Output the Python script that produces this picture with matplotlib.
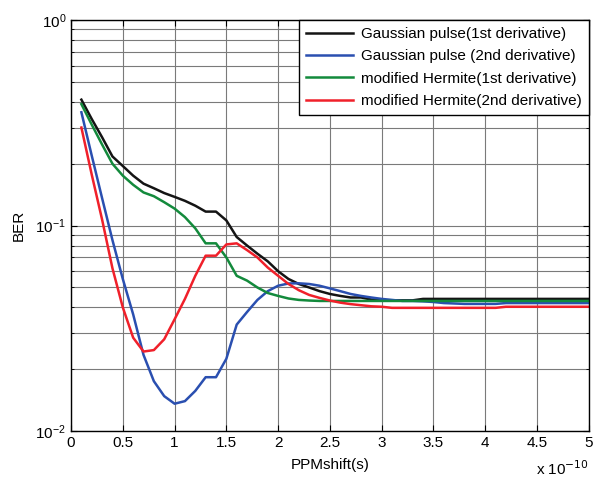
import matplotlib.pyplot as plt
from matplotlib.ticker import LogLocator, NullFormatter

plt.rcParams['font.family'] = ['Liberation Sans', 'DejaVu Sans']

# PPM shift in units of 1e-10 s
shift = [round(0.1 * i, 1) for i in range(1, 51)]

gauss_1st = [0.41, 0.33, 0.269, 0.217, 0.195, 0.175, 0.160, 0.152, 0.144, 0.138,
             0.132, 0.125, 0.117, 0.117, 0.106, 0.088, 0.080, 0.073, 0.067, 0.060,
             0.055, 0.052, 0.050, 0.048, 0.0465, 0.0455, 0.0447, 0.0447, 0.0437, 0.0433,
             0.0433, 0.0433, 0.0433, 0.044, 0.044, 0.044, 0.044, 0.044, 0.044, 0.044,
             0.044, 0.044, 0.044, 0.044, 0.044, 0.044, 0.044, 0.044, 0.044, 0.044]

gauss_2nd = [0.356, 0.219, 0.136, 0.085, 0.055, 0.037, 0.0235, 0.0175, 0.0148, 0.0136,
             0.014, 0.0157, 0.0183, 0.0183, 0.0225, 0.033, 0.038, 0.0435, 0.048, 0.051,
             0.0523, 0.0524, 0.052, 0.051, 0.0495, 0.048, 0.0465, 0.0455, 0.0447, 0.044,
             0.0435, 0.043, 0.043, 0.0428, 0.0425, 0.042, 0.0418, 0.0416, 0.0416, 0.0416,
             0.0416, 0.042, 0.042, 0.042, 0.042, 0.042, 0.042, 0.042, 0.042, 0.042]

herm_1st = [0.39, 0.31, 0.248, 0.20, 0.175, 0.158, 0.145, 0.139, 0.130, 0.121,
            0.110, 0.097, 0.082, 0.082, 0.070, 0.057, 0.054, 0.050, 0.047, 0.0455,
            0.0442, 0.0435, 0.0432, 0.043, 0.043, 0.043, 0.043, 0.043, 0.043, 0.043,
            0.043, 0.043, 0.043, 0.043, 0.043, 0.043, 0.043, 0.043, 0.043, 0.043,
            0.043, 0.043, 0.043, 0.043, 0.043, 0.043, 0.043, 0.043, 0.043, 0.043]

herm_2nd = [0.30, 0.177, 0.107, 0.062, 0.040, 0.0285, 0.0244, 0.0248, 0.028, 0.035,
            0.044, 0.057, 0.0714, 0.0714, 0.081, 0.082, 0.076, 0.070, 0.0625, 0.057,
            0.052, 0.0485, 0.046, 0.0445, 0.0432, 0.0422, 0.0415, 0.041, 0.0405, 0.0403,
            0.0398, 0.0398, 0.0398, 0.0398, 0.0398, 0.0398, 0.0398, 0.0398, 0.0398, 0.0398,
            0.0398, 0.0403, 0.0403, 0.0403, 0.0403, 0.0403, 0.0403, 0.0403, 0.0403, 0.0403]

labels = ['Gaussian pulse(1st derivative)', 'Gaussian pulse (2nd derivative)',
          'modified Hermite(1st derivative)', 'modified Hermite(2nd derivative)']
colors = ['#141414', '#2a4fb0', '#138a3c', '#f0202a']

fig = plt.figure(figsize=(6.02, 4.78), dpi=100)
ax = fig.add_axes([0.118, 0.098, 0.860, 0.860])

for ys, lab, c in zip([gauss_1st, gauss_2nd, herm_1st, herm_2nd], labels, colors):
    ax.plot(shift, ys, color=c, linewidth=1.8, label=lab)

ax.set_yscale('log')
ax.set_xlim(0, 5)
ax.set_ylim(1e-2, 1)
ax.set_xticks([0, 0.5, 1, 1.5, 2, 2.5, 3, 3.5, 4, 4.5, 5])
ax.set_xticklabels(['0', '0.5', '1', '1.5', '2', '2.5', '3', '3.5', '4', '4.5', '5'])
ax.yaxis.set_minor_locator(LogLocator(base=10, subs=range(2, 10)))
ax.yaxis.set_minor_formatter(NullFormatter())

ax.grid(True, which='major', color='#7a7a7a', linewidth=0.8)
ax.grid(True, which='minor', axis='y', color='#7a7a7a', linewidth=0.8)
ax.tick_params(which='both', direction='in', top=True, right=True, labelsize=11)
ax.tick_params(which='major', length=4)
ax.tick_params(which='minor', length=2.5)
for sp in ax.spines.values():
    sp.set_linewidth(1.0)

ax.set_xlabel('PPMshift(s)', fontsize=11, labelpad=6)
ax.set_ylabel('BER', fontsize=11, labelpad=7)
fig.text(0.978, 0.0, r'x 10$^{-10}$', ha='right', va='bottom', fontsize=11)

leg = ax.legend(loc='upper right', borderaxespad=0, fontsize=11, fancybox=False,
                framealpha=1, edgecolor='black', handlelength=3.1,
                handletextpad=0.5, labelspacing=0.55, borderpad=0.45)
leg.get_frame().set_linewidth(1.0)

fig.savefig('out.png', dpi=100)
